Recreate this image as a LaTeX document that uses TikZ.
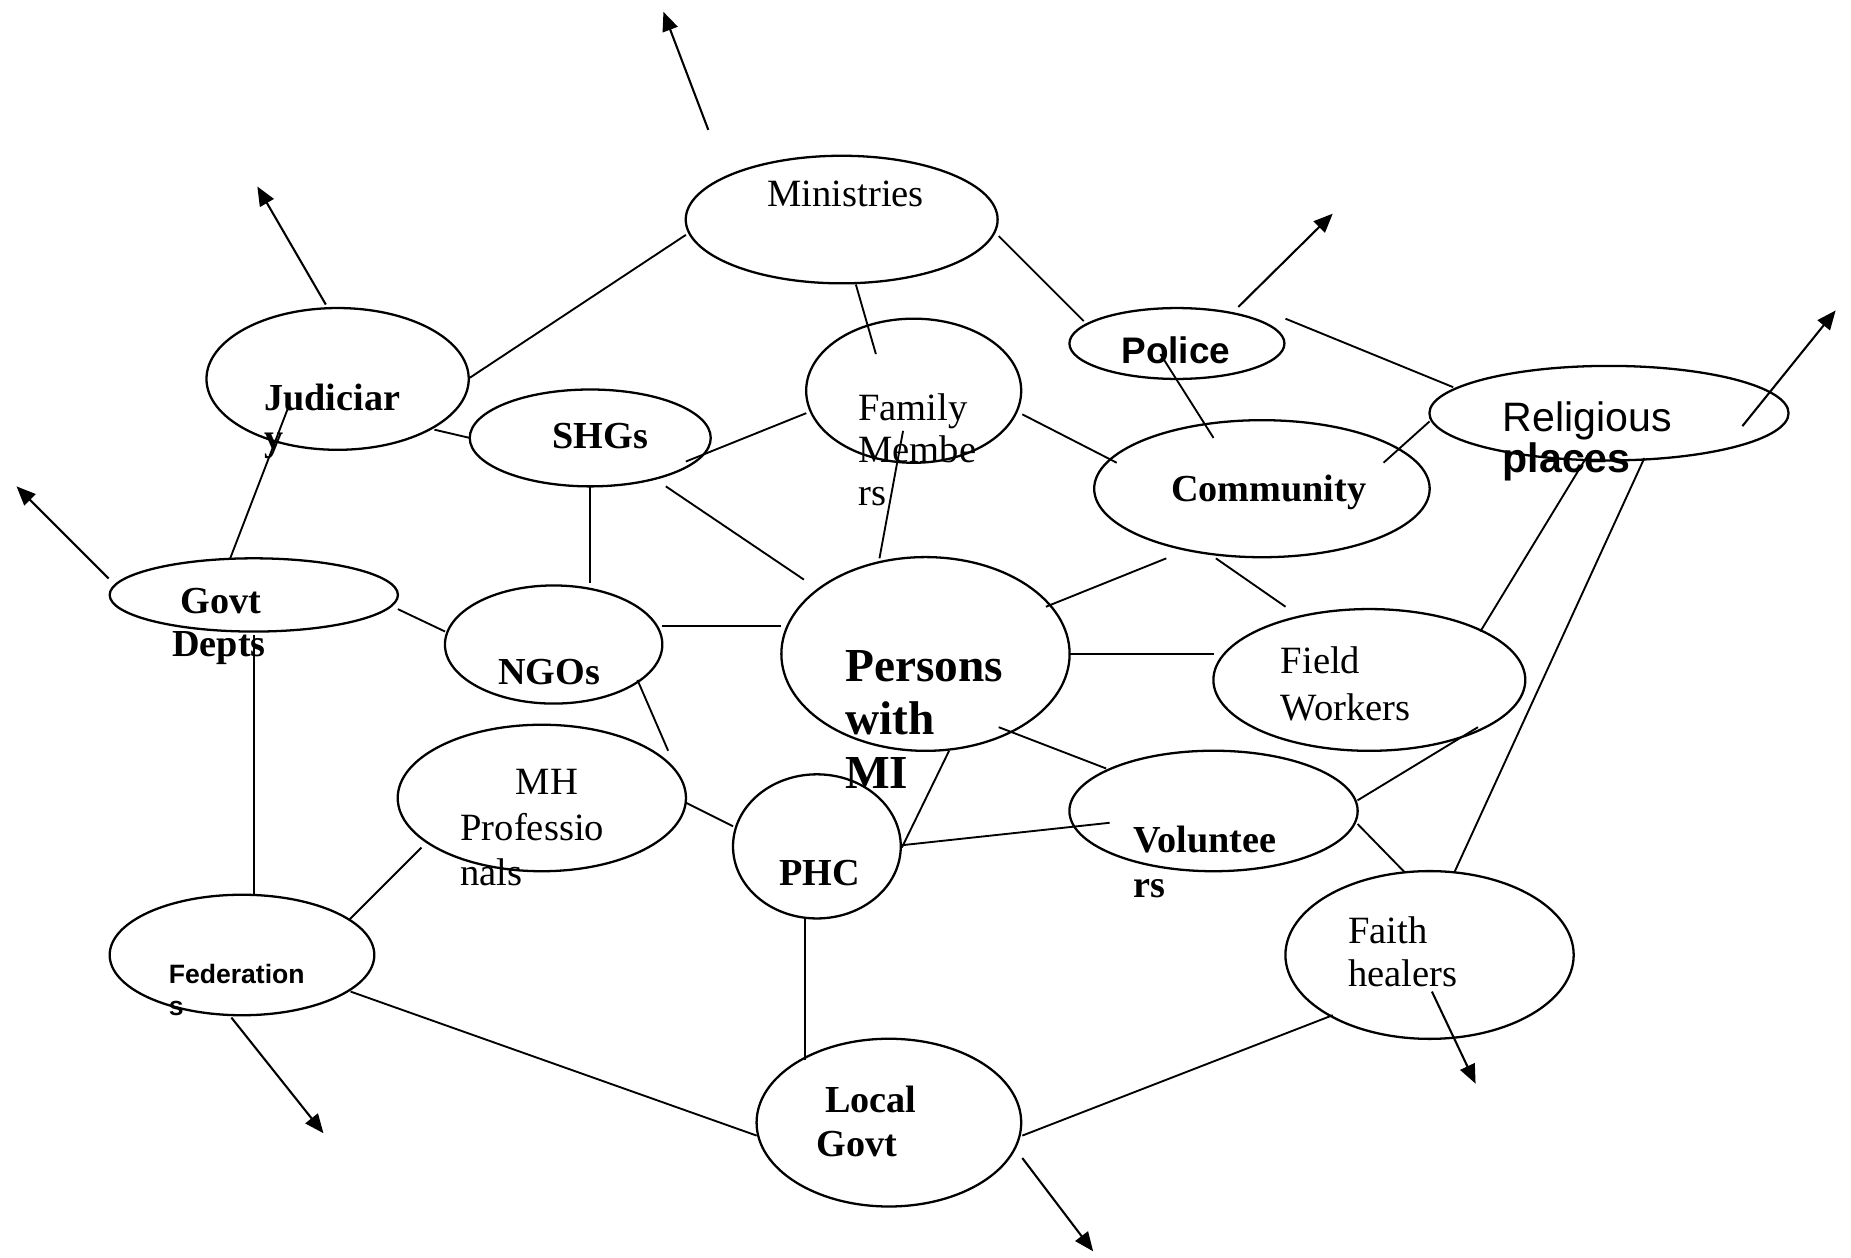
\documentclass[tikz,border=0pt]{standalone}
\usepackage{fontspec}
\setmainfont{Liberation Serif}
\newfontfamily\arl{Liberation Sans}
\usetikzlibrary{arrows.meta,calc,shapes.geometric}

% one unit = one pixel of the layout grid, y grows downwards
\tikzset{
  x=0.01cm, y=-0.01cm,
  bubble/.style={draw, ellipse, line width=0.55pt, inner sep=0pt, outer sep=0pt},
  link/.style={line width=0.45pt},
  outward/.style={line width=0.5pt, -{Triangle[length=4.6pt,width=3.8pt]}},
  % labels are placed by the baseline of their last line
  lbl/.style={anchor=base west, align=left, inner sep=0pt, outer sep=0pt},
  reg/.style={lbl, font=\fontsize{9.3}{10.8}\selectfont},
  bld/.style={lbl, font=\bfseries\fontsize{9.2}{10.8}\selectfont},
  big/.style={lbl, font=\bfseries\fontsize{11.4}{12.9}\selectfont},
  sansreg/.style={lbl, font=\arl\fontsize{9.9}{9.7}\selectfont},
  sansbld/.style={lbl, font=\arl\bfseries\fontsize{8.9}{10}\selectfont},
  sanssmall/.style={lbl, font=\arl\bfseries\fontsize{6.4}{7.7}\selectfont},
}
% ellipse: name, centre x, centre y, half width, half height
\newcommand\bubblenode[5]{\node[bubble, minimum width=#4*0.02cm, minimum height=#5*0.02cm] (#1) at (#2,#3) {};}

\begin{document}
\begin{tikzpicture}
\useasboundingbox (0,0) rectangle (1568,1065);

% ---- ellipses ----
\bubblenode{min}{713}{186}{132}{54}
\bubblenode{jud}{286}{321}{111}{60}
\bubblenode{shg}{500}{371}{102}{41}
\bubblenode{fam}{774}{331}{91}{61}
\bubblenode{pol}{997}{291}{91}{30}
\bubblenode{rel}{1363}{350}{152}{40}
\bubblenode{com}{1069}{414}{142}{58}
\bubblenode{gov}{215}{504}{122}{31}
\bubblenode{ngo}{469}{546}{92}{50}
\bubblenode{pmi}{784}{554}{122}{82}
\bubblenode{fld}{1160}{576}{132}{60}
\bubblenode{mhp}{459}{676}{122}{62}
\bubblenode{phc}{692}{717}{71}{61}
\bubblenode{vol}{1028}{687}{122}{51}
\bubblenode{fed}{205}{809}{112}{51}
\bubblenode{fth}{1211}{809}{122}{71}
\bubblenode{loc}{753}{951}{112}{71}

% ---- labels ----
\node[reg] (minT) at (650,175) {Ministries};
\node[bld, font=\bfseries\fontsize{9.2}{9.7}\selectfont] (judT) at (224,382) {Judiciar\\y};
\node[bld] (shgT) at (468,380) {SHGs};
\node[reg, font=\fontsize{9.3}{10.2}\selectfont] (famT) at (727,428) {Family\\Membe\\rs};
\node[sansbld] (polT) at (950,308) {Police};
\node[sansreg] (relT) at (1273,400) {Religious\\{\bfseries places}};
\node[bld] (comT) at (992,425) {Community};
\node[bld, font=\bfseries\fontsize{9.2}{10.2}\selectfont] (govT) at (146,556) {\hspace*{0.07cm}Govt\\Depts};
\node[bld] (ngoT) at (422,580) {NGOs};
\node[big] (pmiT) at (716,668) {Persons\\with\\MI};
\node[reg, font=\fontsize{9.3}{11.1}\selectfont] (fldT) at (1085,610) {Field\\Workers};
\node[reg, font=\fontsize{9.3}{10.9}\selectfont] (mhpT) at (390,750) {\hspace*{0.47cm}MH\\Professio\\nals};
\node[bld] (phcT) at (660,750) {PHC};
\node[bld] (volT) at (960,760) {Voluntee\\rs};
\node[sanssmall] (fedT) at (143,860) {Federation\\s};
\node[reg, font=\fontsize{9.3}{10.5}\selectfont] (fthT) at (1142,836) {Faith\\healers};
\node[bld] (locT) at (692,980) {\hspace*{0.07cm}Local\\Govt};

% ---- connectors between ellipses ----
\draw[link] ($(min)+(-132,13)$) -- ($(jud)+(112,-1)$);
\draw[link] ($(min)+(12,55)$) -- ($(fam)+(-32,-31)$);
\draw[link] ($(min)+(133,14)$) -- ($(pol)+(-79,-19)$);
\draw[link] ($(pol)+(92,-21)$) -- ($(rel)+(-132,-22)$);
\draw[link] ($(pol)+(-14,9)$) -- ($(com)+(-41,-43)$);
\draw[link] ($(fam)+(-91,19)$) -- ($(shg)+(81,20)$);
\draw[link] ($(fam)+(92,20)$) -- ($(com)+(-123,-22)$);
\draw[link] ($(fam)+(-9,34)$) -- ($(pmi)+(-39,-81)$);
\draw[link] ($(jud)+(82,43)$) -- ($(shg)+(-102,0)$);
\draw[link] ($(jud)+(-41,22)$) -- ($(gov)+(-20,-31)$);
\draw[link] ($(shg)+(0,41)$) -- ($(ngo)+(31,-52)$);
\draw[link] ($(shg)+(64,41)$) -- ($(pmi)+(-103,-63)$);
\draw[link] ($(com)+(103,-22)$) -- ($(rel)+(-152,7)$);
\draw[link] ($(rel)+(-17,34)$) -- ($(fld)+(94,-41)$);
\draw[link] ($(rel)+(30,38)$) -- ($(fth)+(21,-70)$);
\draw[link] ($(com)+(-81,59)$) -- ($(pmi)+(102,-40)$);
\draw[link] ($(com)+(-39,59)$) -- ($(fld)+(-71,-62)$);
\draw[link] ($(gov)+(122,12)$) -- ($(ngo)+(-92,-11)$);
\draw[link] ($(gov)+(0,34)$) -- ($(fed)+(10,-51)$);
\draw[link] ($(ngo)+(92,-16)$) -- ($(pmi)+(-122,-24)$);
\draw[link] ($(ngo)+(71,30)$) -- ($(mhp)+(107,-40)$);
\draw[link] ($(pmi)+(122,0)$) -- ($(fld)+(-132,-22)$);
\draw[link] ($(pmi)+(62,62)$) -- ($(vol)+(-91,-36)$);
\draw[link] ($(pmi)+(20,82)$) -- ($(phc)+(72,1)$);
\draw[link] ($(mhp)+(122,4)$) -- ($(phc)+(-71,-17)$);
\draw[link] ($(mhp)+(-102,42)$) -- ($(fed)+(91,-30)$);
\draw[link] ($(phc)+(72,-1)$) -- ($(vol)+(-88,10)$);
\draw[link] ($(vol)+(122,-9)$) -- ($(fld)+(92,40)$);
\draw[link] ($(vol)+(122,11)$) -- ($(fth)+(-21,-70)$);
\draw[link] ($(phc)+(-10,61)$) -- ($(loc)+(-71,-53)$);
\draw[link] ($(fed)+(92,31)$) -- ($(loc)+(-112,11)$);
\draw[link] ($(fth)+(-82,51)$) -- ($(loc)+(113,11)$);

% ---- outward arrows ----
\coordinate (minO) at (562,10);
\coordinate (judO) at (218,158);
\coordinate (govO) at (14,412);
\coordinate (polO) at (1129,181);
\coordinate (relO) at (1555,263);
\coordinate (fedO) at (274,960);
\coordinate (fthO) at (1250,918);
\coordinate (locO) at (926,1060);
\draw[outward] ($(min)+(-113,-76)$) -- (minO);
\draw[outward] ($(jud)+(-10,-63)$) -- (judO);
\draw[outward] ($(gov)+(-123,-14)$) -- (govO);
\draw[outward] ($(pol)+(52,-31)$) -- (polO);
\draw[outward] ($(rel)+(113,11)$) -- (relO);
\draw[outward] ($(fed)+(-9,53)$) -- (fedO);
\draw[outward] ($(fth)+(2,31)$) -- (fthO);
\draw[outward] ($(loc)+(113,30)$) -- (locO);
\end{tikzpicture}
\end{document}
